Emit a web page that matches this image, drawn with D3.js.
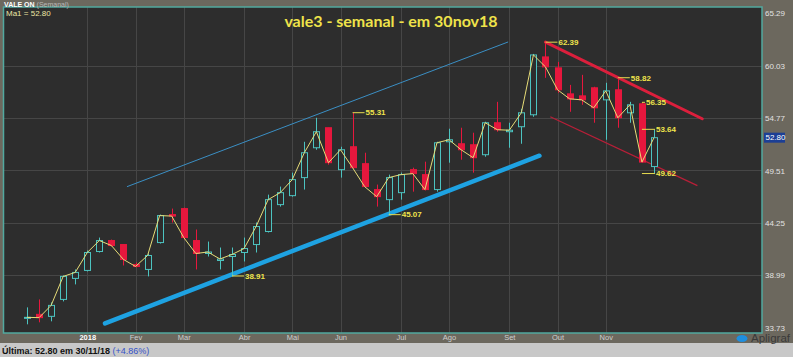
<!DOCTYPE html>
<html>
<head>
<meta charset="utf-8">
<script src="https://cdn.jsdelivr.net/npm/d3@7"></script>
<style>
body{margin:0;background:#6c685e;}
svg{display:block;}
</style>
</head>
<body>
<svg id="chart"></svg>
<script>
var width=793;
var height=357;
var frame={left:3.5,top:7,right:762,bottom:333};

// weekly candles, index 0 = week of 27/11/2017
var open=[34.71,35.06,34.86,36.56,38.67,39.47,41.37,42.47,42.07,40.07,39.57,42.27,45.08,45.68,42.47,41.17,40.47,40.87,41.27,42.07,43.38,46.08,46.98,48.79,51.79,53.80,49.59,51.89,50.19,47.59,46.58,47.28,49.59,49.09,47.59,52.39,52.19,52.09,51.09,54.30,53.40,53.90,55.10,60.91,59.81,57.20,57.00,57.81,56.60,57.61,55.30,56.20,49.90];
var high=[35.76,36.56,36.26,38.97,39.57,41.47,42.77,42.57,42.07,40.27,41.17,45.08,45.68,45.78,43.58,42.37,41.77,41.77,42.77,44.28,47.08,47.89,49.29,52.39,54.80,53.80,51.89,55.31,51.29,48.09,49.09,49.29,49.79,50.39,52.39,53.70,53.80,53.30,54.40,56.40,54.30,55.70,61.21,62.39,60.41,58.10,59.11,57.91,58.31,58.82,56.40,56.35,53.64];
var low=[34.06,34.26,34.36,36.36,38.07,39.37,41.27,41.87,39.97,39.77,38.87,42.17,44.28,42.57,39.57,40.87,39.57,38.91,40.37,41.27,43.28,45.88,46.88,47.59,51.59,50.09,48.79,49.70,47.79,45.88,45.07,46.58,47.38,47.50,47.38,50.29,50.59,49.29,50.89,53.40,51.79,52.19,54.90,58.81,57.30,55.40,56.10,54.30,52.59,53.80,54.30,50.29,49.20];
var close=[34.76,34.73,35.96,38.87,39.27,41.27,42.47,41.97,40.57,39.87,40.97,44.98,44.93,42.77,41.17,41.32,40.62,41.07,41.67,43.88,46.58,47.28,48.59,51.29,53.40,50.29,51.59,49.79,47.89,46.88,48.79,49.09,49.19,47.59,52.29,52.59,51.59,50.79,54.30,53.60,53.55,55.30,61.11,59.91,57.61,56.70,56.60,55.80,57.50,54.80,56.10,50.35,52.80];

var monthIdx=[5,9,13,18,22,26,31,35,40,44,48];
var monthLabels=['2018','Fev','Mar','Abr','Mai','Jun','Jul','Ago','Set','Out','Nov'];
var priceTicks=[65.29,60.03,54.77,49.51,44.25,38.99,33.73];
var lastPrice=52.80;

// trend lines as [week index, price]
var supportLine=[[6.47,34.16],[42.5,50.99]];
var upperChannel=[[8.29,47.88],[39.9,62.41]];
var resistLine=[[43,62.39],[56.0,54.70]];
var lowerChannel=[[43.4,54.90],[55.6,47.99]];

// marked highs/lows: week index, price, label
var marks=[
 {i:17,v:38.91,t:'38.91',dx:12},
 {i:27,v:55.31,t:'55.31',dx:12},
 {i:30,v:45.07,t:'45.07',dx:12},
 {i:43,v:62.39,t:'62.39',dx:12},
 {i:49,v:58.82,t:'58.82',dx:12},
 {i:51,v:56.35,t:'56.35',dx:3},
 {i:51,v:53.64,t:'53.64',dx:13},
 {i:51,v:49.20,t:'49.62',dx:13}
];

var xScale=d3.scaleLinear()
             .domain([0,52])
             .range([27,654]);
var yScale=d3.scaleLinear()
             .domain([33.73,65.29])
             .range([327.6,13.3]);

var cyan='#4cc3c0';
var red='#e6173d';

var svg=d3.select("#chart")
          .attr("width",width)
          .attr("height",height);

svg.append("rect")
   .attr("width",width).attr("height",height)
   .attr("fill","#6c685e");

svg.append("rect")
   .attr("x",frame.left).attr("y",frame.top)
   .attr("width",frame.right-frame.left)
   .attr("height",frame.bottom-frame.top)
   .attr("fill","#2d2d2d");

svg.append("clipPath").attr("id","plotclip")
   .append("rect")
   .attr("x",frame.left).attr("y",frame.top)
   .attr("width",frame.right-frame.left)
   .attr("height",frame.bottom-frame.top);

var plot=svg.append("g").attr("clip-path","url(#plotclip)");

// grid
plot.selectAll(".hgrid")
    .data(priceTicks.slice(1,-1))
    .enter()
    .append("line")
    .attr("x1",frame.left).attr("x2",frame.right)
    .attr("y1",function(d){return Math.round(yScale(d))+0.5;})
    .attr("y2",function(d){return Math.round(yScale(d))+0.5;})
    .attr("stroke","#464646");
plot.selectAll(".vgrid")
    .data(monthIdx)
    .enter()
    .append("line")
    .attr("y1",frame.top).attr("y2",frame.bottom)
    .attr("x1",function(d){return Math.round(xScale(d))+0.5;})
    .attr("x2",function(d){return Math.round(xScale(d))+0.5;})
    .attr("stroke","#464646");

// title
svg.append("text")
   .attr("x",391).attr("y",27)
   .attr("text-anchor","middle")
   .style("font-family","Lato, 'Open Sans', sans-serif")
   .style("font-weight","bold")
   .style("font-size","16px")
   .attr("fill","#efe34a")
   .text("vale3 - semanal - em 30nov18");

// trend lines
var tl=d3.line()
         .x(function(d){return xScale(d[0]);})
         .y(function(d){return yScale(d[1]);});
plot.append("path").attr("d",tl(upperChannel))
    .attr("stroke","#3b8fc4").attr("stroke-width",1).attr("fill","none");
plot.append("path").attr("d",tl(lowerChannel))
    .attr("stroke","#b81f38").attr("stroke-width",1.3).attr("fill","none");
plot.append("path").attr("d",tl(supportLine))
    .attr("stroke","#1ea2e2").attr("stroke-width",4.5).attr("stroke-linecap","round").attr("fill","none");
plot.append("path").attr("d",tl(resistLine))
    .attr("stroke","#dc1f3c").attr("stroke-width",3).attr("stroke-linecap","round").attr("fill","none");

var idx=d3.range(close.length);
var up=function(i){return close[i]>=open[i];};

plot.selectAll(".wick")
    .data(idx)
    .enter()
    .append("line")
    .attr("x1",function(i){return Math.round(xScale(i))+0.5;})
    .attr("x2",function(i){return Math.round(xScale(i))+0.5;})
    .attr("y1",function(i){return yScale(high[i]);})
    .attr("y2",function(i){return yScale(low[i]);})
    .attr("stroke",function(i){return up(i)?cyan:red;})
    .attr("stroke-width",1);

plot.selectAll(".body")
    .data(idx)
    .enter()
    .append("rect")
    .attr("x",function(i){return Math.round(xScale(i))-2.5;})
    .attr("width",6)
    .attr("y",function(i){return yScale(Math.max(open[i],close[i]));})
    .attr("height",function(i){return Math.max(1,Math.abs(yScale(open[i])-yScale(close[i])));})
    .attr("fill",function(i){return up(i)?"#2d2d2d":red;})
    .attr("stroke",function(i){return up(i)?cyan:red;})
    .attr("stroke-width",1);

// Ma1 line
var ma=d3.line()
         .x(function(i){return xScale(i);})
         .y(function(i){return yScale(close[i]);});
plot.append("path")
    .attr("d",ma(idx))
    .attr("fill","none")
    .attr("stroke","#e6dc78")
    .attr("stroke-width",1);

// high/low markers
var mk=plot.selectAll(".mark")
           .data(marks)
           .enter()
           .append("g");
mk.append("line")
  .attr("x1",function(d){return xScale(d.i);})
  .attr("x2",function(d){return xScale(d.i)+d.dx;})
  .attr("y1",function(d){return yScale(d.v);})
  .attr("y2",function(d){return yScale(d.v);})
  .attr("stroke","#e8dc50");
mk.append("text")
  .attr("x",function(d){return xScale(d.i)+d.dx+1;})
  .attr("y",function(d){return yScale(d.v);})
  .attr("dy","0.35em")
  .style("font-family","'Liberation Sans', Arial, sans-serif")
  .style("font-weight","bold")
  .style("font-size","8px")
  .attr("fill","#f0e44c")
  .text(function(d){return d.t;});

// frame
svg.append("rect")
   .attr("x",frame.left).attr("y",frame.top)
   .attr("width",frame.right-frame.left)
   .attr("height",frame.bottom-frame.top)
   .attr("fill","none")
   .attr("stroke","#52a99f")
   .attr("stroke-width",1.5);

// axes
var yAxis=d3.axisRight(yScale)
            .tickValues(priceTicks)
            .tickSize(0)
            .tickPadding(2)
            .tickFormat(d3.format(".2f"));
var ya=svg.append("g")
          .classed("yAxis",true)
          .attr("transform","translate("+(frame.right+1)+",0)")
          .call(yAxis);
ya.select(".domain").remove();
ya.selectAll("text")
  .attr("fill","#e2e2e2")
  .style("font-family","'Liberation Sans', Arial, sans-serif")
  .style("font-size","8px");

svg.append("rect")
   .attr("x",frame.right+2).attr("y",yScale(lastPrice)-5)
   .attr("width",21).attr("height",10)
   .attr("fill","#1c3f95");
svg.append("text")
   .attr("x",frame.right+3.5).attr("y",yScale(lastPrice))
   .attr("dy","0.35em")
   .attr("fill","#ffffff")
   .style("font-family","'Liberation Sans', Arial, sans-serif")
   .style("font-size","8px")
   .text(d3.format(".2f")(lastPrice));

var xAxis=d3.axisBottom(xScale)
            .tickValues(monthIdx)
            .tickSize(0)
            .tickPadding(2)
            .tickFormat(function(d,i){return monthLabels[i];});
var xa=svg.append("g")
          .classed("xAxis",true)
          .attr("transform","translate(0,"+frame.bottom+")")
          .call(xAxis);
xa.select(".domain").remove();
xa.selectAll("text")
  .attr("fill","#cfcfcf")
  .style("font-family","'Liberation Sans', Arial, sans-serif")
  .style("font-size","7.5px")
  .style("font-weight",function(d,i){return i==0?"bold":"normal";});
xa.selectAll("text").filter(function(d,i){return i==0;}).attr("fill","#ffffff");

// header
var hd=svg.append("text")
          .attr("x",4).attr("y",6.5)
          .style("font-family","'Liberation Sans', Arial, sans-serif")
          .style("font-size","7px");
hd.append("tspan").attr("fill","#ffffff").style("font-weight","bold").text("VALE ON ");
hd.append("tspan").attr("fill","#b8b8b8").text("(Semanal)");

svg.append("text")
   .attr("x",6).attr("y",16)
   .attr("fill","#ece6a4")
   .style("font-family","'Liberation Sans', Arial, sans-serif")
   .style("font-size","8px")
   .text("Ma1 = "+d3.format(".2f")(lastPrice));

// footer
svg.append("rect")
   .attr("x",0).attr("y",343)
   .attr("width",width).attr("height",height-343)
   .attr("fill","#c8c8c8");
var ft=svg.append("text")
          .attr("x",2).attr("y",353.5)
          .style("font-family","'Liberation Sans', Arial, sans-serif")
          .style("font-size","9px");
ft.append("tspan").attr("fill","#111111").style("font-weight","bold")
  .text("Última: "+d3.format(".2f")(lastPrice)+" em 30/11/18 ");
ft.append("tspan").attr("fill","#3552c8").text("(+4.86%)");

svg.append("ellipse")
   .attr("cx",742).attr("cy",338.5)
   .attr("rx",5.5).attr("ry",3.5)
   .attr("fill","#1e8fe0");
svg.append("text")
   .attr("x",751).attr("y",342)
   .attr("fill","#3a3a3a")
   .style("font-family","'Liberation Sans', Arial, sans-serif")
   .style("font-size","11.5px")
   .text("Apligraf");
</script>
</body>
</html>
